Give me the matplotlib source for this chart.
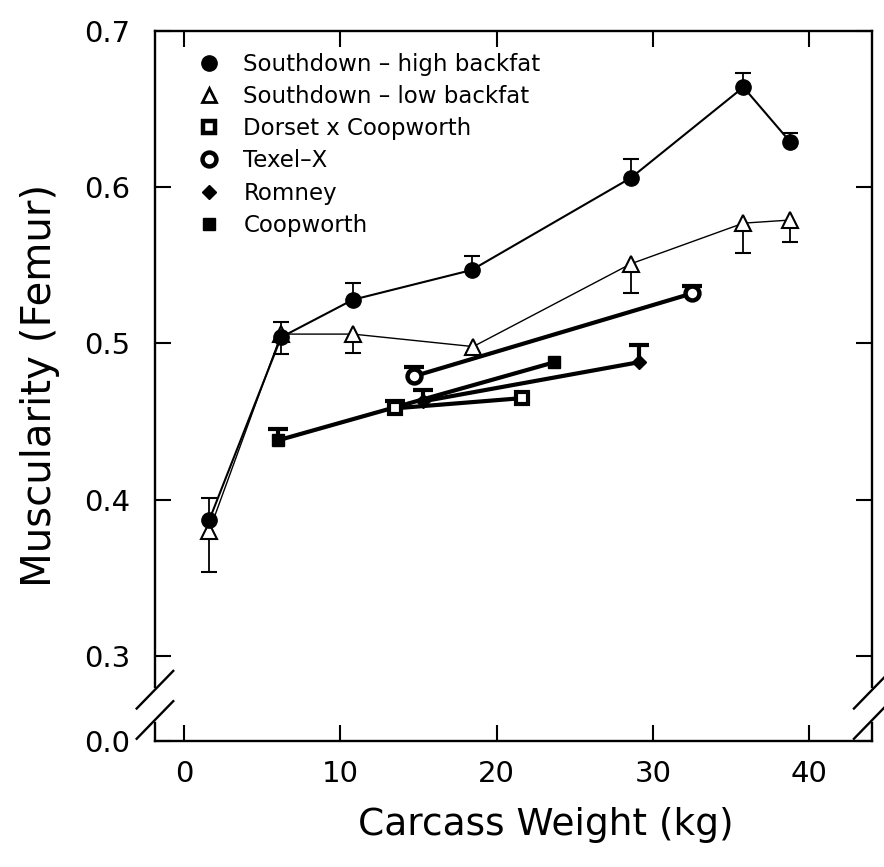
import matplotlib
matplotlib.use('Agg')
import matplotlib.pyplot as plt
from matplotlib.lines import Line2D
import numpy as np

# ---------------- data ----------------
sd_high_x = [1.6, 6.2, 10.8, 18.4, 28.6, 35.8, 38.8]
sd_high_y = [0.387, 0.504, 0.528, 0.547, 0.606, 0.664, 0.629]
sd_high_err = [0.014, 0.010, 0.011, 0.009, 0.012, 0.009, 0.006]

sd_low_x = [1.6, 6.2, 10.8, 18.5, 28.6, 35.8, 38.8]
sd_low_y = [0.380, 0.506, 0.506, 0.498, 0.551, 0.577, 0.579]
sd_low_err = [0.026, 0.013, 0.012, 0.004, 0.019, 0.019, 0.014]

texel_x = [14.7, 32.5]
texel_y = [0.479, 0.532]
texel_err = [0.006, 0.005]

dorset_x = [13.5, 21.6]
dorset_y = [0.4585, 0.465]
dorset_err = [0.005, 0.0]

coop_x = [6.0, 23.7]
coop_y = [0.438, 0.488]
coop_err = [0.007, 0.0]

romney_x = [15.3, 29.1]
romney_y = [0.463, 0.488]
romney_err = [0.007, 0.011]

legend_labels = ["Southdown \u2013 high backfat", "Southdown \u2013 low backfat",
                 "Dorset x Coopworth", "Texel\u2013X", "Romney", "Coopworth"]
x_ticks = [0, 10, 20, 30, 40]
y_ticks = [0.3, 0.4, 0.5, 0.6, 0.7]
y_tick_labels = ["0.3", "0.4", "0.5", "0.6", "0.7"]
y_zero_label = "0.0"
Y_BOTTOM = 0.2458  # position of the broken-axis bottom, labelled 0.0

plt.rcParams['font.family'] = ['DejaVu Sans']

fig = plt.figure(figsize=(8.84, 8.67), dpi=100)
ax = fig.add_axes([0.1753, 0.1457, 0.8114, 0.8186])
ax.set_xlim(-1.876, 44.05)
ax.set_ylim(Y_BOTTOM, 0.7)


def errbars(x, y, err, up=True, lw=1.3, cap_ms=11, cap_mew=1.3):
    x = np.asarray(x, float)
    y = np.asarray(y, float)
    err = np.asarray(err, float)
    m = err > 0
    end = y + err if up else y - err
    ax.vlines(x[m], y[m], end[m], colors='black', linewidth=lw, zorder=2)
    ax.plot(x[m], end[m], ls='none', marker='_', ms=cap_ms, mew=cap_mew,
            color='black', zorder=2)


# breed lines (thick)
ax.plot(coop_x, coop_y, color='black', lw=3.0, zorder=3)
ax.plot(dorset_x, dorset_y, color='black', lw=3.0, zorder=3)
ax.plot(romney_x, romney_y, color='black', lw=3.0, zorder=3)
ax.plot(texel_x, texel_y, color='black', lw=3.0, zorder=3)

errbars(coop_x, coop_y, coop_err, up=True, lw=3.0, cap_ms=14, cap_mew=3.0)
errbars(dorset_x, dorset_y, dorset_err, up=True, lw=3.0, cap_ms=14, cap_mew=3.0)
errbars(romney_x, romney_y, romney_err, up=True, lw=3.0, cap_ms=14, cap_mew=3.0)
errbars(texel_x, texel_y, texel_err, up=True, lw=3.0, cap_ms=14, cap_mew=3.0)

ax.plot(coop_x, coop_y, ls='none', marker='s', ms=8.5, color='black', zorder=5)
ax.plot(dorset_x, dorset_y, ls='none', marker='s', ms=9, mfc='white', mec='black',
        mew=3.0, zorder=5)
ax.plot(romney_x, romney_y, ls='none', marker='D', ms=7.5, color='black', zorder=5)
ax.plot(texel_x, texel_y, ls='none', marker='o', ms=10, mfc='white', mec='black',
        mew=3.2, zorder=5)

# Southdown series
errbars(sd_low_x, sd_low_y, sd_low_err, up=False, lw=1.3, cap_ms=12, cap_mew=1.5)
errbars(sd_high_x, sd_high_y, sd_high_err, up=True, lw=1.3, cap_ms=11, cap_mew=1.5)
ax.plot(sd_low_x, sd_low_y, color='black', lw=1.0, marker='^', ms=11,
        mfc='white', mec='black', mew=1.5, zorder=6)
ax.plot(sd_high_x, sd_high_y, color='black', lw=1.5, marker='o', ms=11,
        mfc='black', mec='black', zorder=7)

# ticks
ax.set_xticks(x_ticks)
ax.set_xticklabels([str(t) for t in x_ticks])
ax.set_yticks([Y_BOTTOM] + y_ticks)
ax.set_yticklabels([y_zero_label] + y_tick_labels)
ax.tick_params(direction='in', length=11.5, width=1.5, top=True, right=True,
               labelsize=21, color='black')
ax.tick_params(axis='x', pad=14)
ax.tick_params(axis='y', pad=18)

# spines with breaks
for s in ['left', 'right']:
    ax.spines[s].set_visible(False)
for s in ['top', 'bottom']:
    ax.spines[s].set_linewidth(1.7)

tr = ax.transAxes
gap_top = 0.0757
gap_bot = 0.0249
for xs in (0.0, 1.0):
    ax.add_line(Line2D([xs, xs], [gap_top, 1.0], transform=tr, color='black',
                       lw=1.7, clip_on=False))
    ax.add_line(Line2D([xs, xs], [0.0, gap_bot], transform=tr, color='black',
                       lw=1.7, clip_on=False))
    for yc in (0.0718, 0.0292):
        ax.add_line(Line2D([xs - 0.0255, xs + 0.0255], [yc - 0.0265, yc + 0.0265],
                           transform=tr, color='black', lw=1.7, clip_on=False))

# axis labels
ax.set_xlabel("Carcass Weight (kg)", fontsize=27)
ax.set_ylabel("Muscularity (Femur)", fontsize=29)
ax.xaxis.set_label_coords(0.545, -0.119)
ax.xaxis.label.set_verticalalignment('center')
ax.yaxis.set_label_coords(-0.160, 0.501)
ax.yaxis.label.set_verticalalignment('center')

# legend
handles = [
    Line2D([], [], ls='none', marker='o', ms=11, color='black'),
    Line2D([], [], ls='none', marker='^', ms=10, mfc='white', mec='black', mew=2.0),
    Line2D([], [], ls='none', marker='s', ms=9, mfc='white', mec='black', mew=3.2),
    Line2D([], [], ls='none', marker='o', ms=10, mfc='white', mec='black', mew=3.2),
    Line2D([], [], ls='none', marker='D', ms=7.5, color='black'),
    Line2D([], [], ls='none', marker='s', ms=8.5, color='black'),
]
ax.legend(handles, legend_labels, loc='upper left', bbox_to_anchor=(0.0593, 0.969),
          frameon=False, fontsize=16.5, handlelength=1.0, handletextpad=1.0,
          labelspacing=0.40, borderpad=0.0, borderaxespad=0.0)

fig.savefig('out.png', dpi=100)
